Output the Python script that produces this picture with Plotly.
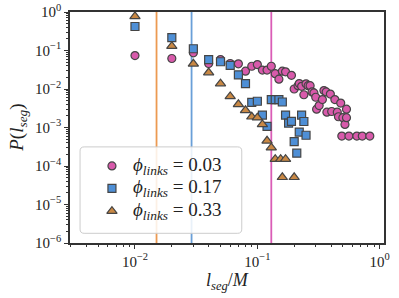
import plotly.graph_objects as go

# phi_links = 0.03 (pink circles)
x_003 = [0.01, 0.02, 0.03, 0.04, 0.05, 0.06, 0.07, 0.08, 0.09, 0.10, 0.11, 0.12, 0.13, 0.14,
         0.15, 0.16, 0.17, 0.19, 0.20, 0.215, 0.22, 0.23, 0.24, 0.25, 0.26, 0.27, 0.28, 0.29,
         0.30, 0.305, 0.32, 0.34, 0.35, 0.365, 0.37, 0.395, 0.405, 0.43, 0.45, 0.46, 0.48,
         0.50, 0.52, 0.535, 0.535, 0.49, 0.56, 0.65, 0.72, 0.83]
y_003 = [0.074, 0.062, 0.087, 0.046, 0.058, 0.046, 0.045, 0.029, 0.039, 0.043, 0.031, 0.031,
         0.039, 0.025, 0.018, 0.029, 0.028, 0.0227, 0.0100, 0.0122, 0.0138, 0.0117, 0.0071,
         0.0136, 0.0122, 0.0122, 0.0084, 0.0079, 0.0061, 0.0030, 0.0037, 0.0053, 0.0091,
         0.0084, 0.0025, 0.0074, 0.0026, 0.0053, 0.0025, 0.0019, 0.0043, 0.0018, 0.0012,
         0.0030, 0.0018, 0.0006, 0.0006, 0.0006, 0.0006, 0.0006]

# phi_links = 0.17 (blue squares)
x_017 = [0.01, 0.02, 0.03, 0.04, 0.05, 0.06, 0.07, 0.08, 0.09, 0.10, 0.11, 0.12, 0.13, 0.14,
         0.15, 0.16, 0.17, 0.18, 0.19, 0.20, 0.21, 0.22, 0.23, 0.24, 0.25]
y_017 = [0.42, 0.215, 0.111, 0.058, 0.051, 0.041, 0.0233, 0.0138, 0.0045, 0.0048, 0.0021,
         0.00107, 0.0053, 0.0053, 0.0053, 0.0046, 0.0021, 0.0013, 0.00145, 0.00043, 0.000215,
         0.00076, 0.0021, 0.00143, 0.00063]

# phi_links = 0.33 (orange triangles)
x_033 = [0.01, 0.02, 0.03, 0.04, 0.05, 0.06, 0.07, 0.08, 0.09, 0.10, 0.11, 0.12, 0.13, 0.14,
         0.155, 0.17, 0.16, 0.20]
y_033 = [0.77, 0.130, 0.045, 0.0267, 0.0138, 0.0064, 0.0040, 0.0028, 0.0019, 0.0018, 0.0012,
         0.00045, 0.00030, 0.00015, 0.00015, 0.00015, 0.000051, 0.000051]

# vertical reference lines
vline_x = [0.015, 0.029, 0.13]
vline_colors = ["#EC9A52", "#6A9FD8", "#DA5CB6"]

labels = ["0.03", "0.17", "0.33"]
ytick_vals = [1e-6, 1e-5, 1e-4, 1e-3, 1e-2, 1e-1, 1]
ytick_text = ["10<sup>−6</sup>", "10<sup>−5</sup>", "10<sup>−4</sup>", "10<sup>−3</sup>",
              "10<sup>−2</sup>", "10<sup>−1</sup>", "10<sup>0</sup>"]
xtick_vals = [1e-2, 1e-1, 1]
xtick_text = ["10<sup>−2</sup>", "10<sup>−1</sup>", "10<sup>0</sup>"]

FONT = "Liberation Serif"
INK = "#222"

fig = go.Figure()
styles = [
    ("circle", "#D85AAB", 8),
    ("square", "#4E8FD6", 8),
    ("triangle-up", "#C98844", 9),
]
series = [(x_003, y_003), (x_017, y_017), (x_033, y_033)]
for (xs, ys), (sym, col, sz) in zip(series, styles):
    fig.add_trace(go.Scatter(
        x=xs, y=ys, mode="markers", showlegend=False,
        marker=dict(symbol=sym, color=col, size=sz,
                    line=dict(color="#454545", width=1.2)),
    ))

for xv, c in zip(vline_x, vline_colors):
    fig.add_shape(type="line", xref="x", yref="paper", x0=xv, x1=xv, y0=0, y1=1,
                  line=dict(color=c, width=1.8), layer="below")

# --- hand-drawn legend (matplotlib style, rounded frame) ---
bx0, bx1, by0, by1 = 0.032, 0.547, 0.042, 0.416
rx, ry = 0.013, 0.018
path = (f"M {bx0+rx},{by0} L {bx1-rx},{by0} Q {bx1},{by0} {bx1},{by0+ry} "
        f"L {bx1},{by1-ry} Q {bx1},{by1} {bx1-rx},{by1} L {bx0+rx},{by1} "
        f"Q {bx0},{by1} {bx0},{by1-ry} L {bx0},{by0+ry} Q {bx0},{by0} {bx0+rx},{by0} Z")
fig.add_shape(type="path", path=path, xref="paper", yref="paper",
              fillcolor="rgba(255,255,255,0.85)", line=dict(color="#CCCCCC", width=1),
              layer="below")
leg_y = [0.3335, 0.2365, 0.138]
leg_mx, leg_tx = 0.1336, 0.195
for (sym, col, sz), ly, lab in zip(styles, leg_y, labels):
    fig.add_trace(go.Scatter(
        x=[leg_mx], y=[ly], xaxis="x2", yaxis="y2", mode="markers", showlegend=False,
        hoverinfo="skip",
        marker=dict(symbol=sym, color=col, size=sz,
                    line=dict(color="#454545", width=1.2)),
    ))
    fig.add_annotation(text=f"<i>ϕ</i><sub><i>links</i></sub> = {lab}", xref="paper", yref="paper",
                       x=leg_tx, y=ly, xanchor="left", yanchor="middle", showarrow=False,
                       font=dict(family=FONT, size=19, color=INK))

minor_y = [m * 10.0 ** k for k in range(-6, 0) for m in range(2, 10)]
minor_x = [m * 10.0 ** k for k in range(-3, 0) for m in range(2, 10)]

fig.add_annotation(text="<i>l</i><sub><i>seg</i></sub>/<i>M</i>", xref="paper", yref="paper",
                   x=0.5, y=-0.165, xanchor="center", yanchor="middle", showarrow=False,
                   font=dict(family=FONT, size=18, color=INK))
fig.add_annotation(text="<i>P</i>(<i>l</i><sub><i>seg</i></sub>)", xref="paper", yref="paper",
                   x=-0.168, y=0.5, xanchor="center", yanchor="middle", showarrow=False,
                   textangle=-90, font=dict(family=FONT, size=19, color=INK))

fig.update_layout(
    width=399, height=298,
    margin=dict(l=70, r=15, t=12, b=55, pad=0),
    paper_bgcolor="white", plot_bgcolor="white",
    font=dict(family=FONT, size=15, color=INK),
    showlegend=False,
    xaxis=dict(type="log", range=[-2.531, 0.035], showgrid=False, zeroline=False,
               automargin=False,
               showline=True, linecolor="#333", linewidth=1.5, mirror=True,
               ticks="outside", ticklen=4, tickwidth=1.2, tickcolor="#333",
               tickvals=xtick_vals, ticktext=xtick_text,
               tickfont=dict(family=FONT, size=15),
               minor=dict(tickvals=minor_x, ticks="outside", ticklen=2.5, tickwidth=1, tickcolor="#333")),
    yaxis=dict(type="log", range=[-6, 0], showgrid=False, zeroline=False,
               automargin=False,
               showline=True, linecolor="#333", linewidth=1.5, mirror=True,
               ticks="outside", ticklen=4, tickwidth=1.2, tickcolor="#333",
               tickvals=ytick_vals, ticktext=ytick_text,
               tickfont=dict(family=FONT, size=15),
               minor=dict(tickvals=minor_y, ticks="outside", ticklen=2.5, tickwidth=1, tickcolor="#333")),
    xaxis2=dict(overlaying="x", range=[0, 1], visible=False, fixedrange=True),
    yaxis2=dict(overlaying="y", range=[0, 1], visible=False, fixedrange=True),
)

fig.write_html("out.html", config={"displayModeBar": False},
               post_script="document.body.style.margin='0px';document.body.style.padding='0px';")
